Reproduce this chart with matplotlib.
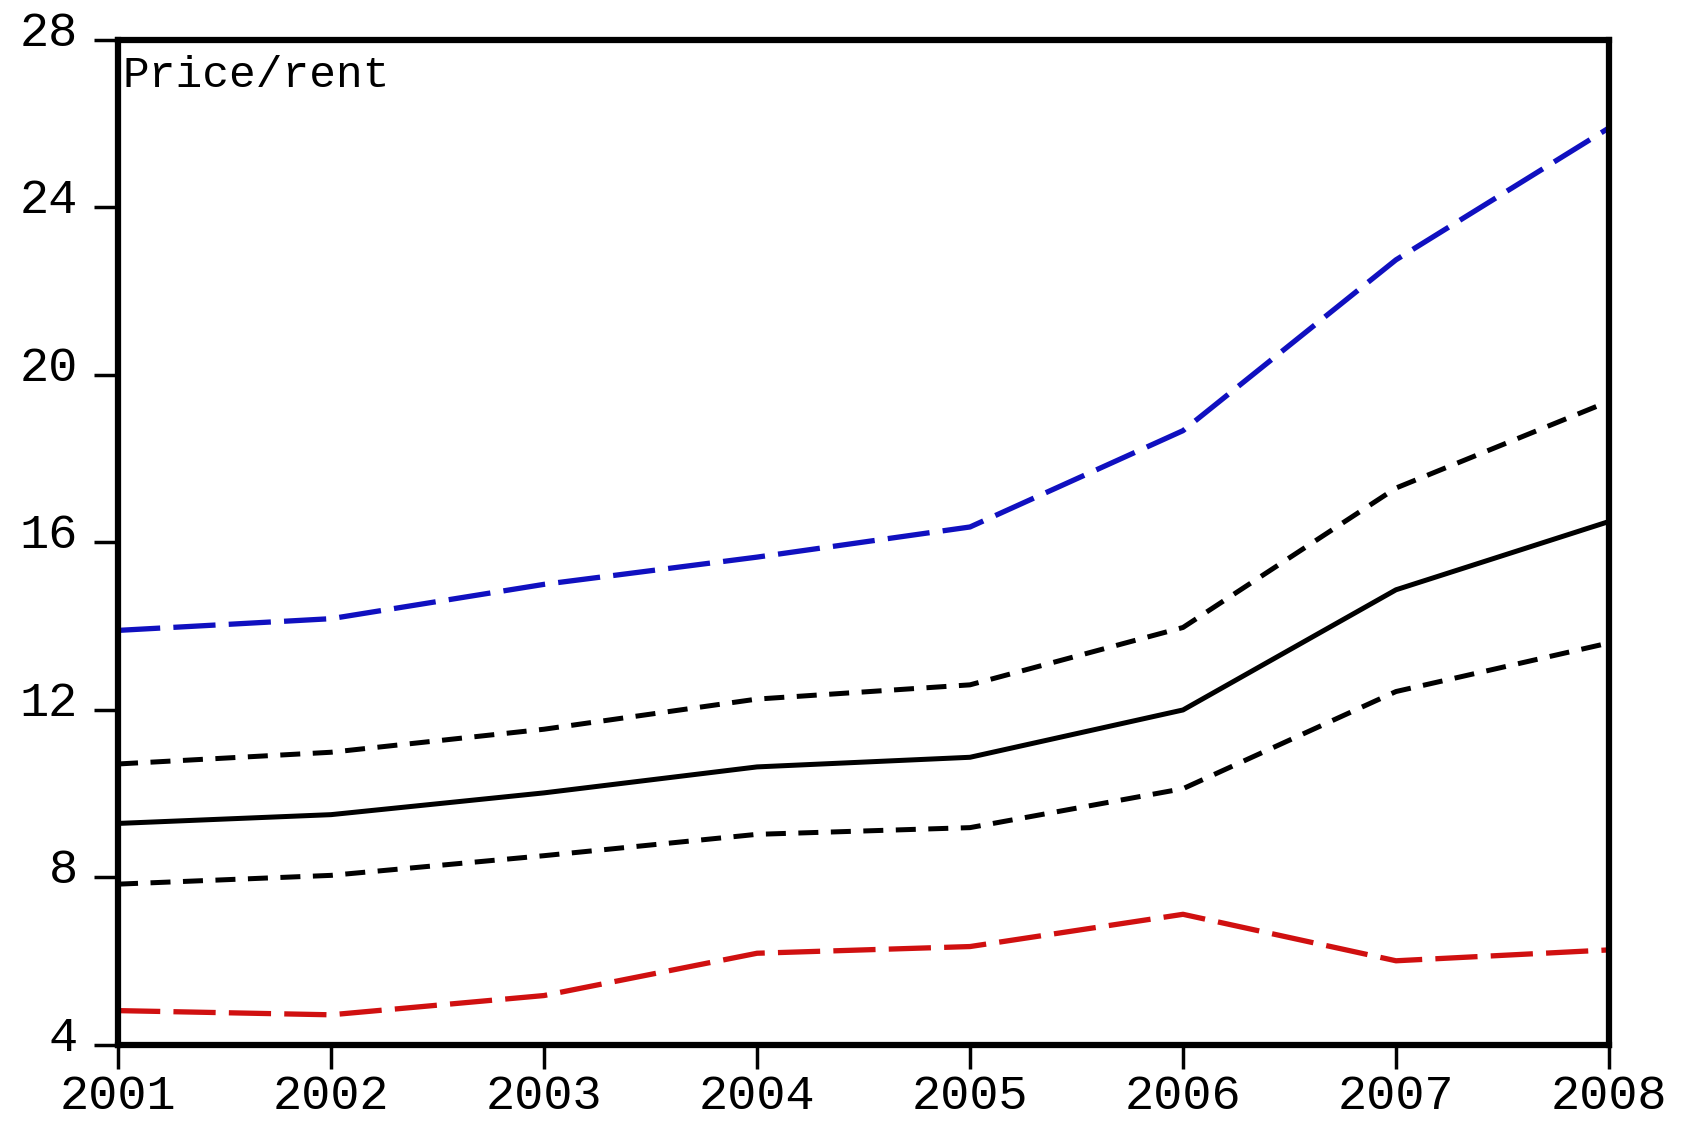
import numpy as np
import matplotlib.pyplot as plt
from matplotlib.transforms import ScaledTranslation

# data
years = [2001, 2002, 2003, 2004, 2005, 2006, 2007, 2008]
upper_blue = [13.9, 14.18, 15.0, 15.65, 16.37, 18.67, 22.75, 25.9]
upper_band = [10.71, 10.99, 11.54, 12.26, 12.6, 13.97, 17.3, 19.37]
central = [9.29, 9.5, 10.02, 10.64, 10.87, 12.0, 14.87, 16.5]
lower_band = [7.84, 8.05, 8.52, 9.03, 9.19, 10.12, 12.44, 13.6]
lower_red = [4.82, 4.72, 5.18, 6.19, 6.35, 7.12, 6.01, 6.27]

yticks = [4, 8, 12, 16, 20, 24, 28]

plt.rcParams['font.family'] = ['Liberation Mono', 'DejaVu Sans Mono']

fig = plt.figure(figsize=(16.91, 11.23), dpi=100)
ax = fig.add_axes([0.0698, 0.0695, 0.9515 - 0.0698, 0.9644 - 0.0695])

ax.plot(years, upper_blue, color='#1010c0', lw=3.8, dashes=(8, 2.5))
ax.plot(years, upper_band, color='black', lw=3.6, dashes=(4, 2.5))
ax.plot(years, central, color='black', lw=3.6)
ax.plot(years, lower_band, color='black', lw=3.6, dashes=(4, 2.5))
ax.plot(years, lower_red, color='#d01010', lw=3.8, dashes=(8, 2.5))

ax.set_xlim(2001, 2008)
ax.set_ylim(4, 28)
ax.set_xticks(years)
ax.set_xticklabels([str(y) for y in years])
ax.set_yticks(yticks)
ax.set_yticklabels([str(v) for v in yticks])

for s in ax.spines.values():
    s.set_linewidth(4.5)

ax.tick_params(axis='both', direction='out', length=17, width=2.5, labelsize=35)
ax.tick_params(axis='y', pad=12)
ax.tick_params(axis='x', pad=4)
# y labels sit just on the tick, like the original
shift = ScaledTranslation(0, -0.06, fig.dpi_scale_trans)
for lab in ax.get_yticklabels():
    lab.set_verticalalignment('baseline')
    lab.set_transform(lab.get_transform() + shift)

ax.text(0.003, 0.985, 'Price/rent', transform=ax.transAxes, fontsize=32,
        va='top', ha='left')

fig.savefig('out.png', dpi=100)
